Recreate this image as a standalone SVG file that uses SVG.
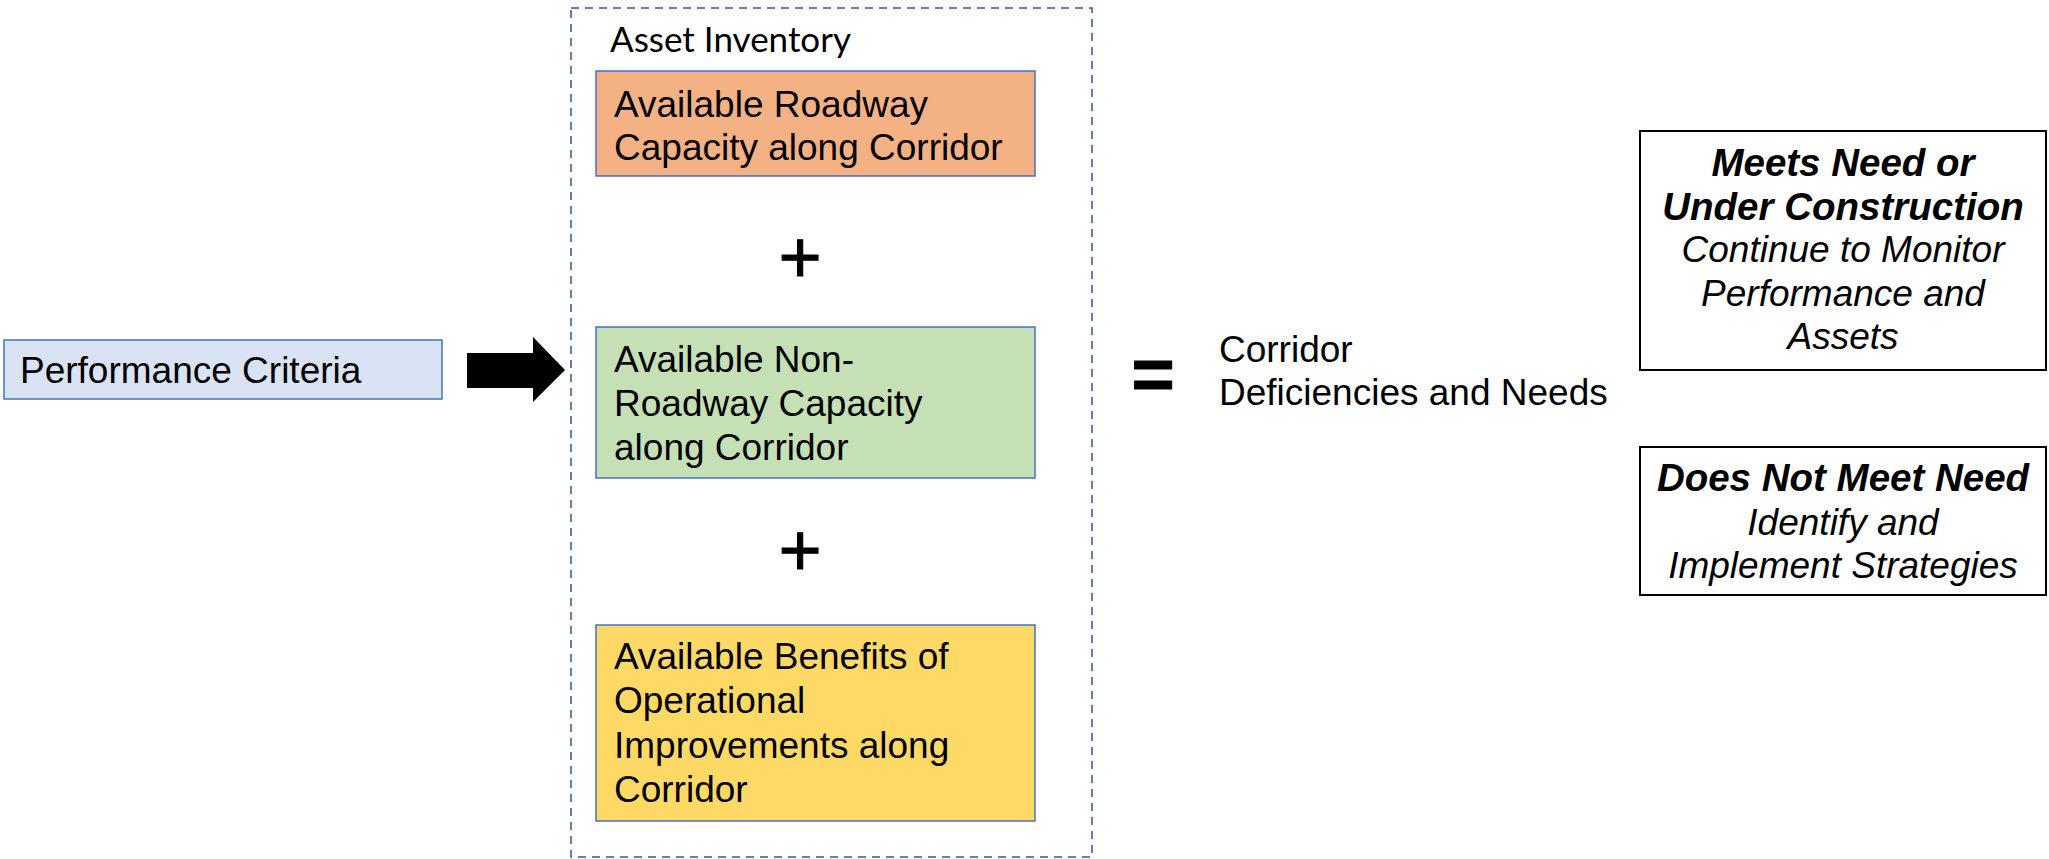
<svg xmlns="http://www.w3.org/2000/svg" width="2049" height="859" viewBox="0 0 2049 859">
<style>
.t{font-family:"Liberation Sans",Arial,sans-serif;font-size:37px;fill:#000}
.box{stroke:#4472C4;stroke-width:1.5}
.out{fill:#fff;stroke:#000;stroke-width:2}
.bi{font-weight:bold;font-style:italic;font-size:38.5px}
.i{font-style:italic}
.c{text-anchor:middle}
.sym{font-family:"Liberation Sans",Arial,sans-serif;font-size:74px;fill:#000;text-anchor:middle;stroke:#000;stroke-width:1}
</style>
<rect width="2049" height="859" fill="#fff"/>
<g id="asset-inventory">
<rect x="571" y="8" width="521" height="849" fill="none" stroke="#2F5597" stroke-width="1.5" stroke-dasharray="8,6"/>
<text x="610" y="52" style="font-family:Lato,'Open Sans',sans-serif;font-size:35px;fill:#000">Asset Inventory</text>
</g>
<g id="performance-criteria">
<rect x="4" y="340" width="438" height="59" fill="#DAE3F3" class="box"/>
<text class="t" x="20" y="383">Performance Criteria</text>
</g>
<g id="connectors">
<path d="M467,353 H533 V337 L565,370 L533,402 V388 H467 Z" fill="#000"/>
</g>
<g id="roadway">
<rect x="596" y="71" width="439" height="105" fill="#F4B183" class="box"/>
<text class="t" x="614" y="117">Available Roadway</text>
<text class="t" x="614" y="160">Capacity along Corridor</text>
</g>
<text class="sym" x="800" y="283">+</text>
<g id="non-roadway">
<rect x="596" y="327" width="439" height="151" fill="#C5E0B4" class="box"/>
<text class="t" x="614" y="372">Available Non-</text>
<text class="t" x="614" y="416">Roadway Capacity</text>
<text class="t" x="614" y="460">along Corridor</text>
</g>
<text class="sym" x="800" y="576">+</text>
<g id="operational">
<rect x="596" y="625" width="439" height="196" fill="#FFD966" class="box"/>
<text class="t" x="614" y="669">Available Benefits of</text>
<text class="t" x="614" y="713">Operational</text>
<text class="t" x="614" y="758">Improvements along</text>
<text class="t" x="614" y="802">Corridor</text>
</g>
<text class="sym" x="1153" y="400" style="font-weight:bold">=</text>
<g id="deficiencies">
<text class="t" x="1219" y="362">Corridor</text>
<text class="t" x="1219" y="405">Deficiencies and Needs</text>
</g>
<g id="meets-need">
<rect x="1640" y="131" width="406" height="239" class="out"/>
<text class="t bi c" x="1843" y="176">Meets Need or</text>
<text class="t bi c" x="1843" y="220">Under Construction</text>
<text class="t i c" x="1843" y="262">Continue to Monitor</text>
<text class="t i c" x="1843" y="306">Performance and</text>
<text class="t i c" x="1843" y="349">Assets</text>
</g>
<g id="does-not-meet">
<rect x="1640" y="447" width="406" height="148" class="out"/>
<text class="t bi c" x="1843" y="491">Does Not Meet Need</text>
<text class="t i c" x="1843" y="535">Identify and</text>
<text class="t i c" x="1843" y="578">Implement Strategies</text>
</g>
</svg>
